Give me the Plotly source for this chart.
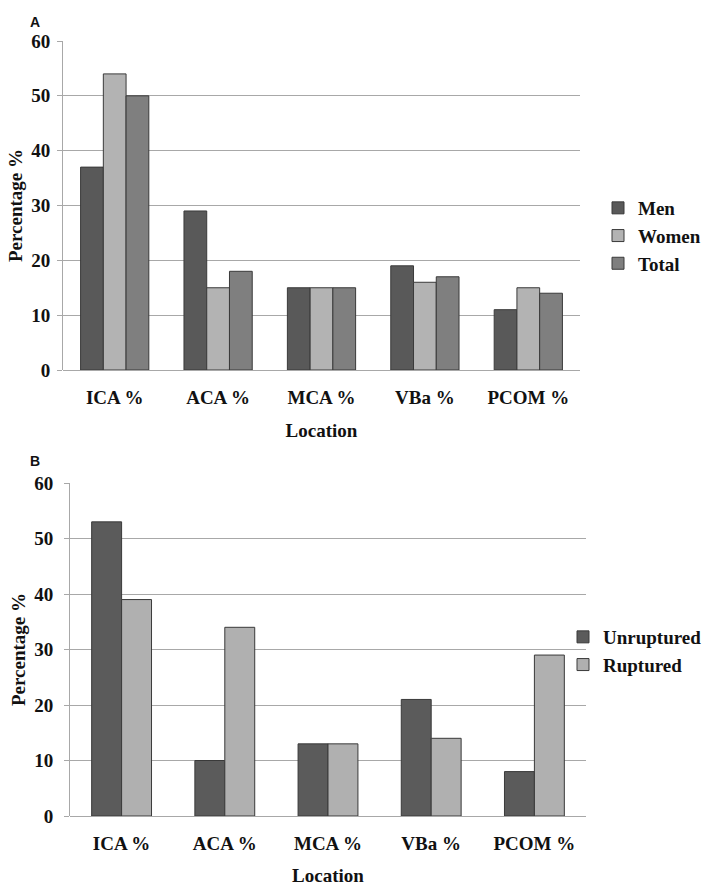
import plotly.graph_objects as go

categories = ["ICA %", "ACA %", "MCA %", "VBa %", "PCOM %"]
men = [37, 29, 15, 19, 11]
women = [54, 15, 15, 16, 15]
total = [50, 18, 15, 17, 14]
unruptured = [53, 10, 13, 21, 8]
ruptured = [39, 34, 13, 14, 29]
y_ticks = [0, 10, 20, 30, 40, 50, 60]

W, H = 709, 888
FONT = "'Liberation Serif', 'Times New Roman', serif"
FS = 19
edge = dict(color="#3a3a3a", width=1)
GRID = "#a8a8a8"

fig = go.Figure()
wa = 0.22
for name, vals, col, off in [("Men", men, "#595959", -1.5 * wa),
                             ("Women", women, "#b3b3b3", -0.5 * wa),
                             ("Total", total, "#7f7f7f", 0.5 * wa)]:
    fig.add_trace(go.Bar(x=categories, y=vals, name=name, marker=dict(color=col, line=edge),
                         width=wa, offset=off, xaxis="x", yaxis="y", legend="legend"))
wb = 0.29
for name, vals, col, off in [("Unruptured", unruptured, "#5b5b5b", -wb),
                             ("Ruptured", ruptured, "#b0b0b0", 0)]:
    fig.add_trace(go.Bar(x=categories, y=vals, name=name, marker=dict(color=col, line=edge),
                         width=wb, offset=off, xaxis="x2", yaxis="y2", legend="legend2"))

def px_x(p):
    return p / W

def px_y(p):
    return 1 - p / H

tickfont = dict(family=FONT, size=FS, color="#111", weight="bold")
titlefont = dict(family=FONT, size=FS, color="#111", weight="bold")

xcommon = dict(showgrid=False, showline=False, ticks="", tickfont=tickfont, ticklabelstandoff=14,
               zeroline=False, fixedrange=True, automargin=False)
ycommon = dict(range=[0, 60], tickvals=y_ticks, showgrid=True, gridcolor=GRID, gridwidth=1,
               showline=True, linecolor=GRID, linewidth=1, ticks="outside", ticklen=5,
               tickcolor=GRID, tickwidth=1, tickfont=tickfont,
               zeroline=True, zerolinecolor=GRID, zerolinewidth=1, automargin=False,
               fixedrange=True)

fig.update_layout(
    width=W, height=H, margin=dict(l=0, r=0, t=0, b=0),
    paper_bgcolor="white", plot_bgcolor="white",
    barmode="overlay",
    xaxis=dict(domain=[px_x(63), px_x(580)], anchor="y",
               title=dict(text="Location", font=titlefont, standoff=16), **xcommon),
    yaxis=dict(domain=[px_y(370), px_y(41)], anchor="x", ticklabelstandoff=3,
               title=dict(text="Percentage %", font=titlefont, standoff=3), **ycommon),
    xaxis2=dict(domain=[px_x(70), px_x(586)], anchor="y2",
                title=dict(text="Location", font=titlefont, standoff=15), **xcommon),
    yaxis2=dict(domain=[px_y(816), px_y(483)], anchor="x2", ticklabelstandoff=7,
                title=dict(text="Percentage %", font=titlefont, standoff=3), **ycommon),
    legend=dict(x=px_x(598), y=px_y(236), xanchor="left", yanchor="middle",
                font=dict(family=FONT, size=FS, color="#111", weight="bold"),
                itemwidth=30, tracegroupgap=0, bgcolor="rgba(0,0,0,0)"),
    legend2=dict(x=px_x(563), y=px_y(651), xanchor="left", yanchor="middle",
                 font=dict(family=FONT, size=FS, color="#111", weight="bold"),
                 itemwidth=30, tracegroupgap=0, bgcolor="rgba(0,0,0,0)"),
    annotations=[
        dict(text="A", x=px_x(28), y=px_y(22), xref="paper", yref="paper", showarrow=False,
             xanchor="left", yanchor="middle",
             font=dict(family="Liberation Sans", size=14, color="#111", weight="bold")),
        dict(text="B", x=px_x(28), y=px_y(461), xref="paper", yref="paper", showarrow=False,
             xanchor="left", yanchor="middle",
             font=dict(family="Liberation Sans", size=14, color="#111", weight="bold")),
    ],
    showlegend=True,
)

fig.write_html("out.html", config={"displayModeBar": False},
               post_script="document.body.style.margin='0';")
